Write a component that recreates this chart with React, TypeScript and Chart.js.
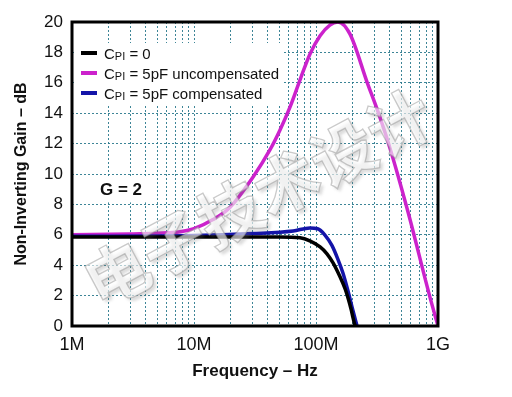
import React, { useEffect, useRef } from "react";
import { Chart, registerables } from "chart.js";

Chart.register(...registerables);

// ---------- data ----------
const DECADES = [1e6, 1e7, 1e8, 1e9];
const DECADE_LABELS = ["1M", "10M", "100M", "1G"];
const MINOR_STEPS = [2, 3, 4, 5, 6, 7, 8, 9];
const GAIN_MIN = 0;
const GAIN_MAX = 20;
const GAIN_STEP = 2;

const FREQ_CPI0 = [1e6, 1e7, 5e7, 7.4e7, 8.9e7, 1.08e8, 1.23e8, 1.38e8, 1.57e8, 1.73e8, 1.83e8, 1.94e8, 2.01e8, 2.09e8];
const GAIN_CPI0 = [5.85, 5.85, 5.85, 5.8, 5.6, 5.2, 4.75, 4.15, 3.25, 2.45, 1.85, 1.1, 0.55, 0];

const FREQ_UNCOMP = [1e6, 3e6, 5e6, 7.7e6, 1e7, 1.43e7, 1.97e7, 3.05e7, 4.2e7, 5.07e7, 6.12e7, 7.4e7, 8.93e7, 1.08e8, 1.3e8, 1.51e8, 1.9e8, 2.62e8, 3.22e8, 4.04e8, 5.68e8, 8.59e8, 1e9];
const GAIN_UNCOMP = [6.0, 6.05, 6.1, 6.2, 6.4, 7.0, 7.8, 9.8, 11.6, 12.9, 14.4, 16.2, 17.9, 19.1, 19.8, 20.0, 19.2, 16.05, 14.1, 11.7, 7.5, 1.9, 0];

const FREQ_COMP = [1e6, 1e7, 3e7, 6.5e7, 8.9e7, 1.03e8, 1.18e8, 1.35e8, 1.51e8, 1.66e8, 1.83e8, 2.01e8, 2.17e8];
const GAIN_COMP = [5.9, 5.95, 6.08, 6.25, 6.45, 6.4, 6.0, 5.3, 4.4, 3.5, 2.3, 1.0, 0];

const SERIES_LABELS = ["CPI = 0", "CPI = 5pF uncompensated", "CPI = 5pF compensated"];
const LEGEND_TAILS = [" = 0", " = 5pF uncompensated", " = 5pF compensated"];
const SERIES_COLORS = ["#000000", "#cc22cc", "#1414a8"];

const ANNOTATION = "G = 2";
const WATERMARK = "电子技术设计";
const X_TITLE = "Frequency – Hz";
const Y_TITLE = "Non-Inverting Gain – dB";

const FONT = '"Liberation Sans", Arial, Helvetica, sans-serif';
const GRID_COLOR = "rgba(40,120,140,0.9)";

function toPoints(xs: number[], ys: number[]) {
  return xs.map((x, i) => ({ x, y: ys[i] }));
}

const overlayPlugin = {
  id: "overlay",
  beforeDatasetsDraw(chart: any) {
    const ctx = chart.ctx;
    const ys = chart.scales.y;
    ctx.save();
    ctx.fillStyle = "#ffffff";
    // legend background
    ctx.fillRect(74, 43, 208, 63);
    // annotation background
    ctx.fillRect(96, ys.getPixelForValue(10) + 2, 54, ys.getPixelForValue(8) - ys.getPixelForValue(10) - 4);
    ctx.restore();
  },
  afterDatasetsDraw(chart: any) {
    const ctx = chart.ctx;
    const a = chart.chartArea;
    const ys = chart.scales.y;
    ctx.save();

    // watermark
    ctx.save();
    ctx.translate(258, 198);
    ctx.rotate(-28 * Math.PI / 180);
    ctx.font = 'bold 64px "Noto Sans CJK SC"';
    ctx.textAlign = "center";
    ctx.textBaseline = "middle";
    ctx.shadowColor = "rgba(110,110,110,0.4)";
    ctx.shadowOffsetX = 3;
    ctx.shadowOffsetY = 3;
    ctx.shadowBlur = 3;
    ctx.fillStyle = "rgba(255,255,255,0.6)";
    ctx.fillText(WATERMARK, 0, 0);
    ctx.shadowColor = "transparent";
    ctx.lineWidth = 1.3;
    ctx.strokeStyle = "rgba(150,150,150,0.5)";
    ctx.strokeText(WATERMARK, 0, 0);
    ctx.restore();

    // legend
    const rowsY = [53, 73, 93];
    rowsY.forEach((ry, i) => {
      ctx.strokeStyle = SERIES_COLORS[i];
      ctx.lineWidth = 4;
      ctx.beginPath();
      ctx.moveTo(81, ry);
      ctx.lineTo(97, ry);
      ctx.stroke();
      ctx.fillStyle = "#111";
      ctx.textBaseline = "alphabetic";
      ctx.textAlign = "left";
      const base = ry + 6;
      ctx.font = `15px ${FONT}`;
      ctx.fillText("C", 104, base);
      let x = 104 + ctx.measureText("C").width;
      ctx.font = `11px ${FONT}`;
      ctx.fillText("PI", x, base + 1);
      x += ctx.measureText("PI").width;
      ctx.font = `15px ${FONT}`;
      ctx.fillText(LEGEND_TAILS[i], x, base);
    });

    // annotation
    ctx.font = `bold 17px ${FONT}`;
    ctx.fillStyle = "#111";
    ctx.textAlign = "left";
    ctx.textBaseline = "middle";
    ctx.fillText(ANNOTATION, 100, (ys.getPixelForValue(10) + ys.getPixelForValue(8)) / 2 + 1);

    // frame
    ctx.strokeStyle = "#000";
    ctx.lineWidth = 3;
    ctx.strokeRect(a.left, a.top, a.right - a.left, a.bottom - a.top);
    ctx.restore();
  },
};

export default function App() {
  const canvasRef = useRef<HTMLCanvasElement | null>(null);

  useEffect(() => {
    const canvas = canvasRef.current;
    if (!canvas) return;
    const gridTicks: number[] = [];
    DECADES.forEach((d, i) => {
      gridTicks.push(d);
      if (i < DECADES.length - 1) MINOR_STEPS.forEach((m) => gridTicks.push(d * m));
    });
    const mk = (xs: number[], ys: number[], i: number) => ({
      label: SERIES_LABELS[i],
      data: toPoints(xs, ys),
      borderColor: SERIES_COLORS[i],
      backgroundColor: SERIES_COLORS[i],
      borderWidth: 3.5,
      pointRadius: 0,
      cubicInterpolationMode: "monotone" as const,
      fill: false,
    });
    const chart = new Chart(canvas, {
      type: "line",
      data: {
        datasets: [
          mk(FREQ_CPI0, GAIN_CPI0, 0),
          mk(FREQ_COMP, GAIN_COMP, 2),
          mk(FREQ_UNCOMP, GAIN_UNCOMP, 1),
        ],
      },
      options: {
        responsive: false,
        animation: false,
        layout: { padding: { left: 0, top: 22, right: 74, bottom: 0 } },
        plugins: { legend: { display: false }, tooltip: { enabled: false } },
        scales: {
          x: {
            type: "logarithmic",
            min: DECADES[0],
            max: DECADES[DECADES.length - 1],
            afterBuildTicks: (scale: any) => {
              scale.ticks = gridTicks.map((v) => ({ value: v }));
            },
            afterFit: (scale: any) => {
              scale.height = 71;
            },
            border: { display: false, dash: [2, 2] },
            grid: { color: GRID_COLOR, lineWidth: 1, drawTicks: false },
            ticks: {
              autoSkip: false,
              maxRotation: 0,
              padding: 8,
              color: "#111",
              font: { family: FONT, size: 18 },
              callback: (v: any) => {
                const idx = DECADES.indexOf(Number(v));
                return idx >= 0 ? DECADE_LABELS[idx] : "";
              },
            },
            title: {
              display: true,
              text: X_TITLE,
              color: "#111",
              font: { family: FONT, size: 17, weight: "bold" },
              padding: { top: 0, bottom: 15 },
            },
          },
          y: {
            type: "linear",
            min: GAIN_MIN,
            max: GAIN_MAX,
            afterFit: (scale: any) => {
              scale.width = 72;
            },
            border: { display: false, dash: [2, 2] },
            grid: { color: GRID_COLOR, lineWidth: 1, drawTicks: false },
            ticks: {
              stepSize: GAIN_STEP,
              padding: 9,
              color: "#111",
              font: { family: FONT, size: 17 },
            },
            title: {
              display: true,
              text: Y_TITLE,
              color: "#111",
              font: { family: FONT, size: 16, weight: "bold" },
              padding: { top: 12, bottom: 0 },
            },
          },
        },
      } as any,
      plugins: [overlayPlugin],
    });
    return () => chart.destroy();
  }, []);

  return (
    <div style={{ position: "absolute", left: 0, top: 0, width: 512, height: 397, background: "#fff" }}>
      <canvas ref={canvasRef} width={512} height={397} />
    </div>
  );
}
